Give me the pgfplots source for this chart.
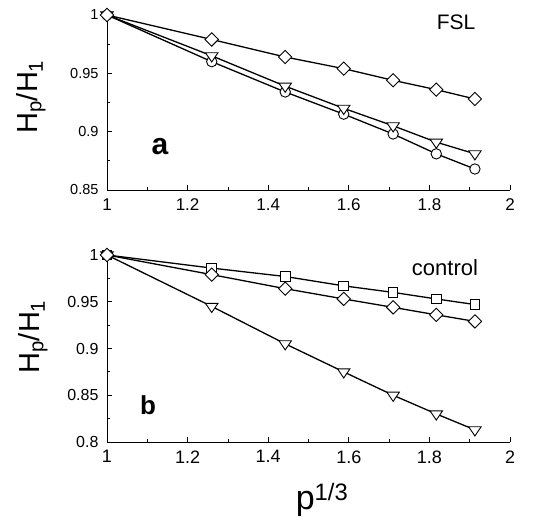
\documentclass[border=0pt]{standalone}
\usepackage{fontspec}
\setmainfont{Liberation Sans}
\usepackage{pgfplots}
\pgfplotsset{compat=1.18}

\pgfplotsset{
  panel/.style={
    scale only axis, width=403pt,
    xmin=1, xmax=2,
    axis x line*=bottom, axis y line*=left,
    axis line style={-, line width=0.9pt},
    xtick={1,1.2,1.4,1.6,1.8,2},
    minor xtick={1.1,1.3,1.5,1.7,1.9},
    tick align=inside,
    major tick length=5pt, minor tick length=3pt,
    tick style={black, line width=0.8pt},
    /pgf/number format/assume math mode=true,
    clip=false,
  },
  ser/.style={black, line width=1.3pt},
  dia/.style={ser, mark=square*, mark size=4.7pt, mark options={solid, fill=white, draw=black, line width=0.9pt, rotate=45}},
  tri/.style={ser, mark=triangle*, mark size=7.2pt, mark options={solid, fill=white, draw=black, line width=0.9pt, rotate=180, yscale=0.85}},
  cir/.style={ser, mark=*, mark size=5.2pt, mark options={solid, fill=white, draw=black, line width=0.9pt}},
  sqr/.style={ser, mark=square*, mark size=4.8pt, mark options={solid, fill=white, draw=black, line width=0.9pt}},
}

\begin{document}
\begin{tikzpicture}[x=1pt, y=1pt]

% panel a (FSL)
\begin{axis}[panel, at={(107pt,335pt)}, anchor=south west, height=175pt,
    ymin=0.85, ymax=1,
    ytick={0.85,0.9,0.95,1}, minor ytick={0.875,0.925,0.975},
    xticklabel style={font=\fontsize{17}{17}\selectfont, yshift=-5pt},
    yticklabel style={font=\fontsize{14.5}{14.5}\selectfont, xshift=-5pt},
  ]
  \addplot[cir] coordinates {(1,1)(1.2599,0.960)(1.4422,0.934)(1.5874,0.915)(1.7100,0.898)(1.8171,0.881)(1.9129,0.868)};
  \addplot[tri] coordinates {(1,1)(1.2599,0.965)(1.4422,0.939)(1.5874,0.920)(1.7100,0.905)(1.8171,0.891)(1.9129,0.881)};
  \addplot[dia] coordinates {(1,1)(1.2599,0.979)(1.4422,0.964)(1.5874,0.954)(1.7100,0.944)(1.8171,0.936)(1.9129,0.928)};
\end{axis}

% panel b (control)
\begin{axis}[panel, at={(107pt,83pt)}, anchor=south west, height=187pt,
    ymin=0.8, ymax=1,
    ytick={0.8,0.85,0.9,0.95,1}, minor ytick={0.825,0.875,0.925,0.975},
    xticklabel style={font=\fontsize{18}{18}\selectfont, yshift=-5pt},
    yticklabel style={font=\fontsize{16}{16}\selectfont, xshift=-5pt},
  ]
  \addplot[tri] coordinates {(1,1)(1.2599,0.945)(1.4422,0.905)(1.5874,0.875)(1.7100,0.850)(1.8171,0.830)(1.9129,0.813)};
  \addplot[sqr] coordinates {(1,1)(1.2599,0.986)(1.4422,0.977)(1.5874,0.967)(1.7100,0.960)(1.8171,0.953)(1.9129,0.947)};
  \addplot[dia] coordinates {(1,1)(1.2599,0.979)(1.4422,0.964)(1.5874,0.953)(1.7100,0.944)(1.8171,0.936)(1.9129,0.929)};
\end{axis}

% labels
\node[rotate=90, font=\fontsize{29}{29}\selectfont] at (31,428) {H\textsubscript{p}/H\textsubscript{1}};
\node[rotate=90, font=\fontsize{29}{29}\selectfont] at (33,188) {H\textsubscript{p}/H\textsubscript{1}};
\node[font=\fontsize{30}{30}\bfseries\selectfont] at (160,378) {a};
\node[font=\fontsize{26}{26}\bfseries\selectfont] at (148,120) {b};
\node[font=\fontsize{21}{21}\selectfont] at (456,503) {FSL};
\node[font=\fontsize{22}{22}\selectfont] at (445,257) {control};
\node[font=\fontsize{34}{34}\selectfont] at (322,25) {p\textsuperscript{1/3}};

\pgfresetboundingbox
\path[use as bounding box] (0,0) rectangle (548,525);
\end{tikzpicture}
\end{document}
